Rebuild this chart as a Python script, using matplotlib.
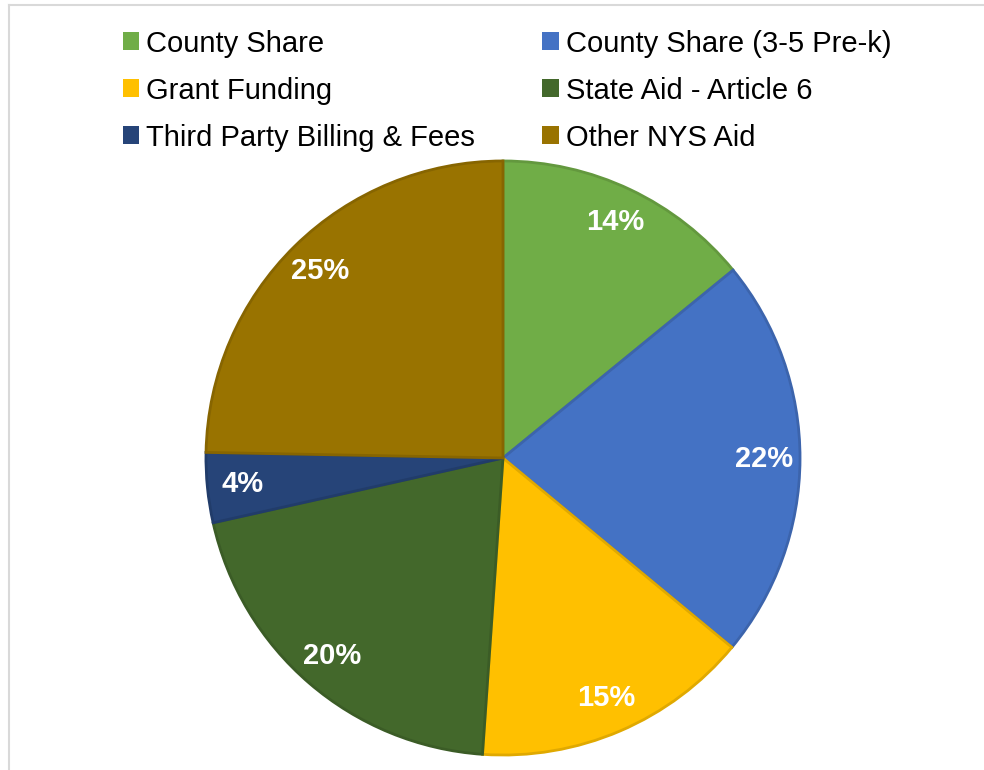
import matplotlib
matplotlib.use('Agg')
import matplotlib.pyplot as plt
from matplotlib.lines import Line2D
from matplotlib.colors import to_rgb

plt.rcParams['font.family'] = ['Liberation Sans', 'DejaVu Sans']

# funding sources, share of total (%)
labels = ['County Share', 'County Share (3-5 Pre-k)', 'Grant Funding',
          'State Aid - Article 6', 'Third Party Billing & Fees', 'Other NYS Aid']
shares = [14.1, 21.9, 15.1, 20.4, 3.8, 24.7]
colors = ['#70AD47', '#4472C4', '#FFC000', '#43682B', '#264478', '#997300']

fig = plt.figure(figsize=(9.84, 7.70), dpi=100)
ax = fig.add_axes([203 / 984, 12 / 770, 600 / 984, 600 / 770])

wedges, texts, autotexts = ax.pie(
    shares, colors=colors, startangle=90, counterclock=False,
    autopct=lambda p: '%d%%' % round(p), pctdistance=0.88,
    textprops={'color': 'white', 'fontsize': 21, 'fontweight': 'bold'},
    wedgeprops={'linewidth': 2})
for w, c in zip(wedges, colors):
    w.set_edgecolor(tuple(v * 0.88 for v in to_rgb(c)))
ax.set_xlim(-1.01, 1.01)
ax.set_ylim(-1.01, 1.01)
ax.set_aspect('equal')

# legend: rows read left to right, so reorder for column-wise filling
order = [0, 2, 4, 1, 3, 5]
leg = fig.legend([wedges[i] for i in order], [labels[i] for i in order],
                 ncol=2, loc='upper left', bbox_to_anchor=(108 / 984, 1 - 15 / 770),
                 frameon=False, fontsize=21, handlelength=0.56, handleheight=0.56,
                 handletextpad=0.25, columnspacing=2.3, labelspacing=0.65,
                 borderpad=0)
for h in leg.legend_handles:
    h.set_linewidth(0)

# thin frame left over from the slide crop
fig.add_artist(Line2D([9 / 984, 1], [1 - 5 / 770, 1 - 5 / 770], color='#d9d9d9', lw=1.5))
fig.add_artist(Line2D([9 / 984, 9 / 984], [0, 1 - 5 / 770], color='#d9d9d9', lw=1.5))

fig.savefig('out.png', dpi=100)
